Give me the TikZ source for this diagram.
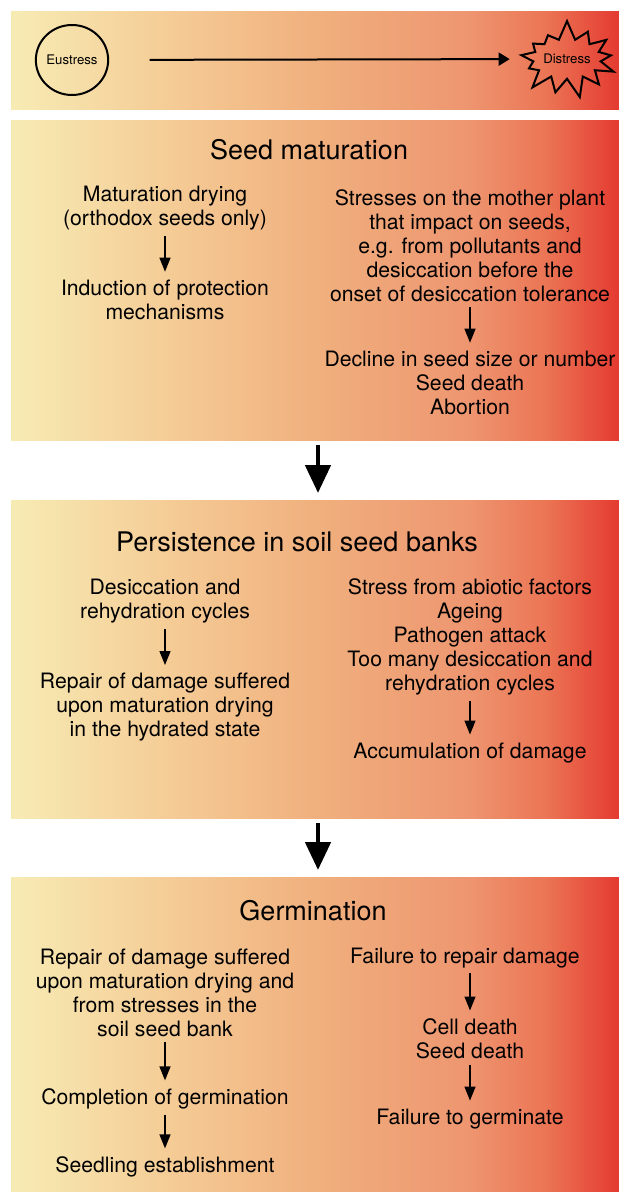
\documentclass[tikz,border=0pt]{standalone}
\usepackage{fontspec}
\setmainfont{TeX Gyre Heros}
\usetikzlibrary{positioning}
\usetikzlibrary{shapes.geometric, shapes.symbols}
\usetikzlibrary{arrows.meta}

\pgfdeclarehorizontalshading{stressgrad}{100bp}{
 rgb(0bp)=(0.969,0.922,0.706);
 rgb(25bp)=(0.969,0.922,0.706);
 rgb(37.5bp)=(0.961,0.804,0.592);
 rgb(50bp)=(0.941,0.690,0.494);
 rgb(62.5bp)=(0.933,0.588,0.439);
 rgb(69bp)=(0.922,0.459,0.333);
 rgb(75bp)=(0.894,0.227,0.188);
 rgb(100bp)=(0.894,0.227,0.188)}

\begin{document}
\begin{tikzpicture}[x=0.5pt, y=-0.5pt]
\fontsize{10.6}{12}\selectfont

% used shapes
\tikzstyle{panel} = [rectangle, shade, shading=stressgrad, inner sep=0pt, outer sep=0pt, minimum width=304pt]
\tikzstyle{txt} = [align=center, inner sep=0pt]
\tikzstyle{heading} = [align=center, inner sep=0pt, font=\fontsize{13.5}{16}\selectfont]
\tikzstyle{smallarr} = [-{Triangle[length=7pt, width=5.5pt]}, line width=0.65pt, shorten <=2.5pt, shorten >=4pt]
\tikzstyle{bigarr} = [-{Triangle[length=14pt, width=12.5pt]}, line width=2.4pt, shorten <=2.5pt, shorten >=3.5pt]

\useasboundingbox (0,0) rectangle (619,1192);

% top bar
\node [panel, minimum height=49pt] (bar) at (315,61) {};
\node [ellipse, draw, line width=1pt, minimum width=34.5pt, minimum height=35pt, inner sep=0pt, font=\fontsize{6.6}{7}\selectfont] (eu) at (72,60) {Eustress};
\node [starburst, draw, line width=1pt, inner sep=0pt, starburst points=13, starburst point height=10pt, random starburst=7, font=\fontsize{6.6}{7}\selectfont] (dis) at (567,59) {\makebox[24pt]{\rule[-4.7pt]{0pt}{14pt}Distress}};
\draw [-{Triangle[length=5.5pt, width=6.5pt]}, line width=1pt, shorten <=20.25pt, shorten >=8.5pt] (eu) -- (dis);

% panels
\node [panel, minimum height=159.5pt] (matur) at (315,280.5) {};
\node [panel, minimum height=159pt] (persist) at (315,659) {};
\node [panel, minimum height=157pt] (germ) at (315,1034) {};

\draw [bigarr] ([xshift=1.5pt]matur.south) -- ([xshift=1.5pt]persist.north);
\draw [bigarr] ([xshift=1.5pt]persist.south) -- ([xshift=1.5pt]germ.north);

% seed maturation
\node [heading] (t1) at (309,150) {Seed maturation};
\node [txt] (md) at (165,208.5) {Maturation drying\\(orthodox seeds only)};
\node [txt] (ip) at (165,300) {Induction of protection\\mechanisms};
\node [txt] (sm) at (470,246) {Stresses on the mother plant\\that impact on seeds,\\e.g. from pollutants and\\desiccation before the\\onset of desiccation tolerance};
\node [txt] (dc) at (470,383) {Decline in seed size or number\\Seed death\\Abortion};
\draw [smallarr] (md) -- (ip);
\draw [smallarr] (sm) -- (dc);

% persistence
\node [heading] (t2) at (297,542) {Persistence in soil seed banks};
\node [txt] (dr) at (165,601.5) {Desiccation and\\rehydration cycles};
\node [txt] (rp) at (165,707.5) {Repair of damage suffered\\upon maturation drying\\in the hydrated state};
\node [txt] (sa) at (470,637) {Stress from abiotic factors\\Ageing\\Pathogen attack\\Too many desiccation and\\rehydration cycles};
\node [txt] (ad) at (470,753) {Accumulation of damage};
\draw [smallarr] (dr) -- (rp);
\draw [smallarr] (sa) -- (ad);

% germination
\node [heading] (t3) at (313,911) {Germination};
\node [txt] (rd) at (165,993) {Repair of damage suffered\\upon maturation drying and\\from stresses in the\\soil seed bank};
\node [txt] (cg) at (165,1099) {Completion of germination};
\node [txt] (se) at (165,1167) {Seedling establishment};
\node [txt] (fr) at (465,958) {Failure to repair damage};
\node [txt] (cd) at (470,1039) {Cell death\\Seed death};
\node [txt] (fg) at (470,1119) {Failure to germinate};
\draw [smallarr] (rd) -- (cg);
\draw [smallarr] (cg) -- (se);
\draw [smallarr] (cd.north |- fr.south) -- (cd);
\draw [smallarr] (cd) -- (fg);

\end{tikzpicture}
\end{document}
